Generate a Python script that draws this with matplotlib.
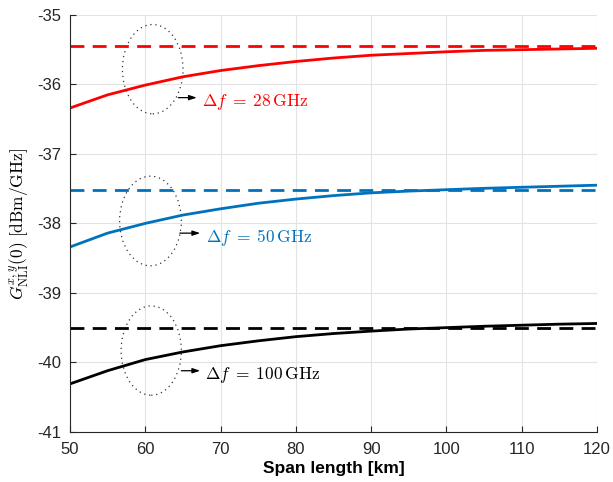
"""Ganancia NLI frente a la longitud de vano, para tres separaciones de canal."""

import matplotlib
matplotlib.use('Agg')
import matplotlib.pyplot as plt
from matplotlib.patches import Ellipse

plt.rcParams['mathtext.fontset'] = 'cm'
plt.rcParams['axes.unicode_minus'] = False
plt.rcParams['font.family'] = ['Liberation Sans', 'DejaVu Sans']

span_km = [50, 55, 60, 65, 70, 75, 80, 85, 90, 95, 100, 105, 110, 115, 120]

g_28 = [-36.34, -36.15, -36.01, -35.89, -35.80, -35.73, -35.67, -35.62,
        -35.58, -35.555, -35.53, -35.51, -35.50, -35.49, -35.48]
g_50 = [-38.34, -38.14, -38.00, -37.88, -37.79, -37.71, -37.65, -37.60,
        -37.56, -37.535, -37.515, -37.495, -37.48, -37.465, -37.45]
g_100 = [-40.31, -40.12, -39.96, -39.85, -39.76, -39.69, -39.63, -39.585,
         -39.55, -39.52, -39.50, -39.48, -39.465, -39.45, -39.44]

# valores asintóticos (líneas discontinuas)
asint = [-35.443, -37.515, -39.50]

etiquetas = [r'$\Delta f\;=\;28\,\mathrm{GHz}$', r'$\Delta f\;=\;50\,\mathrm{GHz}$',
             r'$\Delta f\;=\;100\,\mathrm{GHz}$']
colores = ['#ff0000', '#0072bd', '#000000']

# elipses: (x centro, y centro, ancho, alto)
elipses = [(61.0, -35.78, 8.05, 1.285), (60.7, -37.965, 8.2, 1.29),
           (60.8, -39.83, 8.0, 1.285)]
# flechas: (x inicio, x fin, y), y posición del texto (x, y)
flechas = [(64.4, 66.85, -36.19), (64.6, 67.3, -38.14), (64.8, 67.3, -40.12)]
textos = [(67.5, -36.25), (68.1, -38.2), (67.9, -40.18)]

fig = plt.figure(figsize=(6.13, 4.82), dpi=100)
ax = fig.add_axes([0.114, 0.104, 0.860, 0.865])

for serie, nivel, color in zip([g_28, g_50, g_100], asint, colores):
    ax.plot(span_km, serie, color=color, lw=2)
    ax.axhline(nivel, color=color, lw=2, ls=(0, (5, 3)))

for (xc, yc, w, h), (x0, x1, yf), (xt, yt), txt, color in zip(
        elipses, flechas, textos, etiquetas, colores):
    ax.add_patch(Ellipse((xc, yc), w, h, fill=False, ls=(0, (1, 3)),
                         lw=0.9, ec='#333333'))
    ax.annotate('', xy=(x1, yf), xytext=(x0, yf),
                arrowprops=dict(arrowstyle='-|>,head_length=0.45,head_width=0.15',
                                color='black', lw=0.9, shrinkA=0, shrinkB=0))
    ax.text(xt, yt, txt, color=color, fontsize=12.5, va='center', ha='left')

ax.set_xlim(50, 120)
ax.set_ylim(-41, -35)
ax.set_xticks(range(50, 121, 10))
ax.set_yticks(range(-41, -34))
ax.grid(True, color='#e3e3e3', lw=0.8)
ax.set_axisbelow(True)
for lado in ('top', 'right'):
    ax.spines[lado].set_visible(False)
for lado in ('left', 'bottom'):
    ax.spines[lado].set_color('#262626')
ax.tick_params(direction='in', length=4, labelsize=12, colors='#262626')
ax.tick_params(axis='x', pad=7)
ax.tick_params(axis='y', pad=6)

ax.set_xlabel('Span length [km]', fontsize=12.5, fontweight='bold', labelpad=3)
ax.set_ylabel(r'$G_{\mathrm{NLI}}^{x,y}(0)\ [\mathrm{dBm/GHz}]$', fontsize=12.5,
              labelpad=4)

fig.savefig('out.png', dpi=100)
